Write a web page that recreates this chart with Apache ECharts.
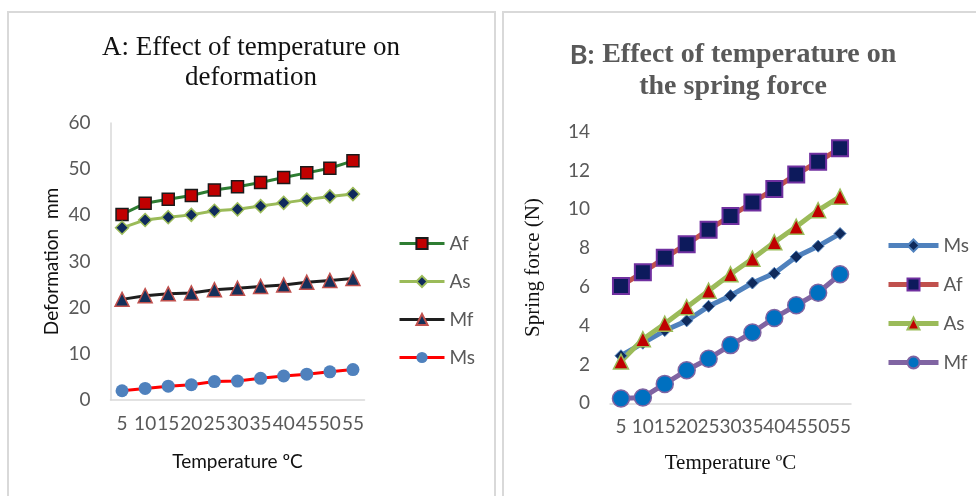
<!DOCTYPE html>
<html>
<head>
<meta charset="utf-8">
<script src="https://cdn.jsdelivr.net/npm/echarts@6/dist/echarts.min.js"></script>
<style>
html,body{margin:0;padding:0;background:#fff;}
#c{width:976px;height:496px;}
</style>
</head>
<body>
<div id="c"></div>
<script>
// ---- Data ----
const temperatures = ['5','10','15','20','25','30','35','40','45','50','55'];

// Chart A: deformation (mm)
const defAf = [40.2, 42.6, 43.5, 44.3, 45.5, 46.2, 47.1, 48.2, 49.2, 50.2, 51.8];
const defAs = [37.3, 39.0, 39.6, 40.1, 41.0, 41.3, 42.0, 42.7, 43.4, 44.1, 44.6];
const defMf = [21.8, 22.6, 23.0, 23.2, 23.9, 24.2, 24.6, 24.9, 25.5, 25.9, 26.3];
const defMs = [2.0, 2.5, 3.0, 3.3, 4.0, 4.1, 4.7, 5.2, 5.6, 6.1, 6.6];

// Chart B: spring force (N)
const fMs = [2.45, 3.1, 3.75, 4.25, 5.0, 5.55, 6.2, 6.7, 7.55, 8.1, 8.75];
const fAf = [6.05, 6.75, 7.5, 8.2, 8.95, 9.65, 10.35, 11.05, 11.8, 12.45, 13.15];
const fAs = [2.15, 3.3, 4.1, 4.95, 5.8, 6.65, 7.45, 8.3, 9.1, 9.95, 10.65];
const fMf = [0.25, 0.3, 1.0, 1.7, 2.3, 3.0, 3.65, 4.4, 5.05, 5.7, 6.65];

const yTicksA = {min: 0, max: 60, interval: 10};
const yTicksB = {min: 0, max: 14, interval: 2};

// ---- Chart ----
const sans = 'Lato';
const serif = 'Liberation Serif';
const gray = '#595959';
const chart = echarts.init(document.getElementById('c'), null, {renderer: 'canvas'});

function xAxisCfg(gridIndex, name, nameFont, nameSize, nameGap) {
  return {
    type: 'category', gridIndex, data: temperatures, boundaryGap: true,
    axisLine: {show: true, lineStyle: {color: '#D9D9D9', width: 1.5}},
    axisTick: {show: false},
    axisLabel: {interval: 0, color: gray, fontFamily: sans, fontSize: 19, margin: 14},
    name, nameLocation: 'middle', nameGap,
    nameTextStyle: {color: '#111', fontFamily: nameFont, fontSize: nameSize}
  };
}

chart.setOption({
  animation: false,
  backgroundColor: '#fff',
  graphic: [
    {type: 'rect', shape: {x: 8, y: 12, width: 487, height: 500}, style: {fill: 'none', stroke: '#D9D9D9', lineWidth: 2}},
    {type: 'rect', shape: {x: 503, y: 12, width: 500, height: 500}, style: {fill: 'none', stroke: '#D9D9D9', lineWidth: 2}}
  ],
  title: [
    {
      text: 'A: Effect of temperature on\ndeformation',
      left: 251, top: 33, textAlign: 'center', padding: 0,
      textStyle: {fontFamily: serif, fontSize: 27, fontWeight: 'normal', color: '#111', lineHeight: 30}
    },
    {
      text: '{a|B:} {b|Effect of temperature on}\n{b|the spring force}',
      left: 733, top: 39, textAlign: 'center', padding: 0,
      textStyle: {
        fontSize: 28, lineHeight: 32, color: gray,
        rich: {
          a: {fontFamily: sans, fontSize: 27, color: gray, lineHeight: 32},
          b: {fontFamily: serif, fontSize: 28, fontWeight: 'bold', color: gray, lineHeight: 32}
        }
      }
    }
  ],
  legend: [
    {
      orient: 'vertical', left: 398, top: 234, itemWidth: 45, itemHeight: 14, itemGap: 19, padding: 0,
      data: ['Af', 'As', 'Mf', 'Ms'].map(n => ({name: n})),
      textStyle: {color: gray, fontFamily: sans, fontSize: 19},
      lineStyle: {width: 'inherit'},
      selectedMode: false
    },
    {
      orient: 'vertical', left: 886, top: 236, itemWidth: 50, itemHeight: 15, itemGap: 20, padding: 0,
      data: ['Ms ', 'Af ', 'As ', 'Mf '].map(n => ({name: n})),
      textStyle: {color: gray, fontFamily: sans, fontSize: 19},
      lineStyle: {width: 'inherit'},
      formatter: n => n.trim(),
      selectedMode: false
    }
  ],
  grid: [
    {left: 110.5, top: 123, width: 254, height: 277},
    {left: 610, top: 131.7, width: 241, height: 271.6}
  ],
  xAxis: [
    xAxisCfg(0, 'Temperature ºC', sans, 19, 52),
    xAxisCfg(1, 'Temperature ºC', serif, 21, 50)
  ],
  yAxis: [
    {
      type: 'value', gridIndex: 0, min: yTicksA.min, max: yTicksA.max, interval: yTicksA.interval,
      splitLine: {show: false},
      axisLine: {show: true, lineStyle: {color: '#D9D9D9', width: 1.5}},
      axisTick: {show: false},
      axisLabel: {color: gray, fontFamily: sans, fontSize: 19, margin: 20},
      name: 'Deformation  mm', nameLocation: 'middle', nameGap: 49,
      nameTextStyle: {color: '#111', fontFamily: sans, fontSize: 19}
    },
    {
      type: 'value', gridIndex: 1, min: yTicksB.min, max: yTicksB.max, interval: yTicksB.interval,
      splitLine: {show: false},
      axisLine: {show: false},
      axisTick: {show: false},
      axisLabel: {color: gray, fontFamily: sans, fontSize: 19, margin: 20},
      name: 'Spring force (N)', nameLocation: 'middle', nameGap: 66,
      nameTextStyle: {color: '#111', fontFamily: serif, fontSize: 21}
    }
  ],
  series: [
    {
      name: 'Af', type: 'line', xAxisIndex: 0, yAxisIndex: 0, data: defAf,
      symbol: 'rect', symbolSize: 12,
      lineStyle: {color: '#2E7D32', width: 3},
      itemStyle: {color: '#C00000', borderColor: '#1a1a1a', borderWidth: 1.5}
    },
    {
      name: 'As', type: 'line', xAxisIndex: 0, yAxisIndex: 0, data: defAs,
      symbol: 'diamond', symbolSize: 13,
      lineStyle: {color: '#9BBB59', width: 3},
      itemStyle: {color: '#0F2A5C', borderColor: '#9BBB59', borderWidth: 1.5}
    },
    {
      name: 'Mf', type: 'line', xAxisIndex: 0, yAxisIndex: 0, data: defMf,
      symbol: 'triangle', symbolSize: 14,
      lineStyle: {color: '#1E1E1E', width: 3},
      itemStyle: {color: '#14305A', borderColor: '#C0504D', borderWidth: 1.5}
    },
    {
      name: 'Ms', type: 'line', xAxisIndex: 0, yAxisIndex: 0, data: defMs,
      symbol: 'circle', symbolSize: 13,
      lineStyle: {color: '#FF0000', width: 3},
      itemStyle: {color: '#4F81BD', borderWidth: 0}
    },
    {
      name: 'Ms ', type: 'line', xAxisIndex: 1, yAxisIndex: 1, data: fMs,
      symbol: 'diamond', symbolSize: 12,
      lineStyle: {color: '#4F81BD', width: 5},
      itemStyle: {color: '#0F2A5C', borderColor: '#4F81BD', borderWidth: 1}
    },
    {
      name: 'Af ', type: 'line', xAxisIndex: 1, yAxisIndex: 1, data: fAf,
      symbol: 'rect', symbolSize: 16,
      lineStyle: {color: '#C0504D', width: 5},
      itemStyle: {color: '#0D1A5C', borderColor: '#7030A0', borderWidth: 2}
    },
    {
      name: 'As ', type: 'line', xAxisIndex: 1, yAxisIndex: 1, data: fAs,
      symbol: 'triangle', symbolSize: 15,
      lineStyle: {color: '#9BBB59', width: 5},
      itemStyle: {color: '#C00000', borderColor: '#9BBB59', borderWidth: 1.5}
    },
    {
      name: 'Mf ', type: 'line', xAxisIndex: 1, yAxisIndex: 1, data: fMf,
      symbol: 'circle', symbolSize: 17,
      lineStyle: {color: '#8064A2', width: 5},
      itemStyle: {color: '#0070C0', borderColor: '#8064A2', borderWidth: 1.5}
    }
  ]
});
</script>
</body>
</html>
